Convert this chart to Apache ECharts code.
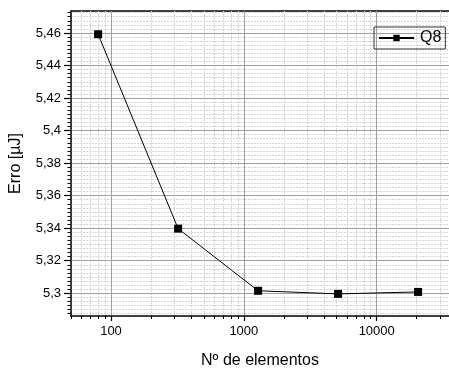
<!DOCTYPE html>
<html>
<head>
<meta charset="utf-8">
<script src="https://cdn.jsdelivr.net/npm/echarts@6/dist/echarts.min.js"></script>
<style>
  html, body { margin: 0; padding: 0; background: #fff; }
  #chart { width: 449px; height: 374px; }
</style>
</head>
<body>
<div id="chart"></div>
<script>
const elements = [80, 320, 1280, 5120, 20480]
const erroQ8 = [5.4592, 5.3397, 5.3015, 5.2996, 5.3008]
const xMajorTicks = [100, 1000, 10000]
const xMinorTicks = [50, 60, 70, 80, 90, 200, 300, 400, 500, 600, 700, 800, 900,
  2000, 3000, 4000, 5000, 6000, 7000, 8000, 9000, 20000, 30000]
const yMajorTicks = [5.30, 5.32, 5.34, 5.36, 5.38, 5.40, 5.42, 5.44, 5.46]
const yMinorStep = 0.0025

const X_MIN = 50, X_MAX = 35000
const Y_MIN = 5.286, Y_MAX = 5.4735

// minor y ticks between the axis limits
const yMinorTicks = []
for (let k = Math.ceil(Y_MIN / yMinorStep); k * yMinorStep <= Y_MAX; k++) {
  yMinorTicks.push(+(k * yMinorStep).toFixed(4))
}

const FONT = 'Liberation Sans, Arial, sans-serif'
const chart = echarts.init(document.getElementById('chart'))

const fmtY = v => String(+Number(v).toFixed(2)).replace('.', ',')
const fmtX = v => String(Math.round(v))

chart.setOption({
  animation: false,
  textStyle: { fontFamily: FONT },
  grid: { left: 70, top: 11, width: 381, height: 315 },
  legend: {
    data: ['Q8'],
    left: 374,
    top: 27,
    padding: [3, 4, 3, 4],
    borderColor: '#333',
    borderWidth: 1,
    itemWidth: 35,
    itemHeight: 8,
    itemGap: 4,
    textStyle: { fontSize: 16, color: '#000', fontFamily: FONT, padding: [0, 0, 0, 1] },
  },
  xAxis: [
    {
      type: 'log', logBase: 10, min: X_MIN, max: X_MAX,
      position: 'bottom',
      name: 'Nº de elementos', nameLocation: 'middle', nameGap: 37,
      nameTextStyle: { fontSize: 16, color: '#000', fontFamily: FONT },
      axisLine: { onZero: false, lineStyle: { color: '#000', width: 1.5 } },
      axisTick: { customValues: xMajorTicks, length: 5, lineStyle: { color: '#000', width: 1.2 } },
      axisLabel: { customValues: xMajorTicks, formatter: fmtX, fontSize: 13, color: '#000', margin: 9, fontFamily: FONT },
      splitLine: { show: true, lineStyle: { color: '#a0a0a0', width: 1 } },
      z: 3,
    },
    {
      type: 'log', logBase: 10, min: X_MIN, max: X_MAX,
      position: 'bottom',
      axisLine: { show: false },
      axisTick: { customValues: xMinorTicks, length: 3, lineStyle: { color: '#000', width: 1 } },
      axisLabel: { show: false },
      splitLine: { show: true, lineStyle: { color: '#d6d6d6', width: 1, type: [2, 1] } },
      z: 2,
    },
    {
      type: 'log', logBase: 10, min: X_MIN, max: X_MAX,
      position: 'top',
      axisLine: { onZero: false, lineStyle: { color: '#000', width: 1.5 } },
      axisTick: { show: false },
      axisLabel: { show: false },
      splitLine: { show: false },
    },
  ],
  yAxis: [
    {
      type: 'value', min: Y_MIN, max: Y_MAX,
      position: 'left',
      name: 'Erro [µJ]', nameLocation: 'middle', nameGap: 47,
      nameTextStyle: { fontSize: 16, color: '#000', fontFamily: FONT },
      axisLine: { show: true, onZero: false, lineStyle: { color: '#000', width: 1.5 } },
      axisTick: { show: true, customValues: yMajorTicks, length: 7, lineStyle: { color: '#000', width: 1.2 } },
      axisLabel: { customValues: yMajorTicks, formatter: fmtY, fontSize: 13, color: '#000', margin: 10, fontFamily: FONT },
      splitLine: { show: true, lineStyle: { color: '#a0a0a0', width: 1 } },
      z: 3,
    },
    {
      type: 'value', min: Y_MIN, max: Y_MAX,
      position: 'left',
      axisLine: { show: false },
      axisTick: { show: true, customValues: yMinorTicks, length: 3.5, lineStyle: { color: '#000', width: 1 } },
      axisLabel: { show: false },
      splitLine: { show: true, lineStyle: { color: '#d6d6d6', width: 1, type: [2, 1] } },
      z: 2,
    },
  ],
  series: [
    {
      name: 'Q8',
      type: 'line',
      xAxisIndex: 0,
      yAxisIndex: 0,
      data: elements.map((n, i) => [n, erroQ8[i]]),
      symbol: 'rect',
      symbolSize: 8,
      lineStyle: { color: '#000', width: 1 },
      itemStyle: { color: '#000' },
      z: 5,
    },
  ],
})
</script>
</body>
</html>
